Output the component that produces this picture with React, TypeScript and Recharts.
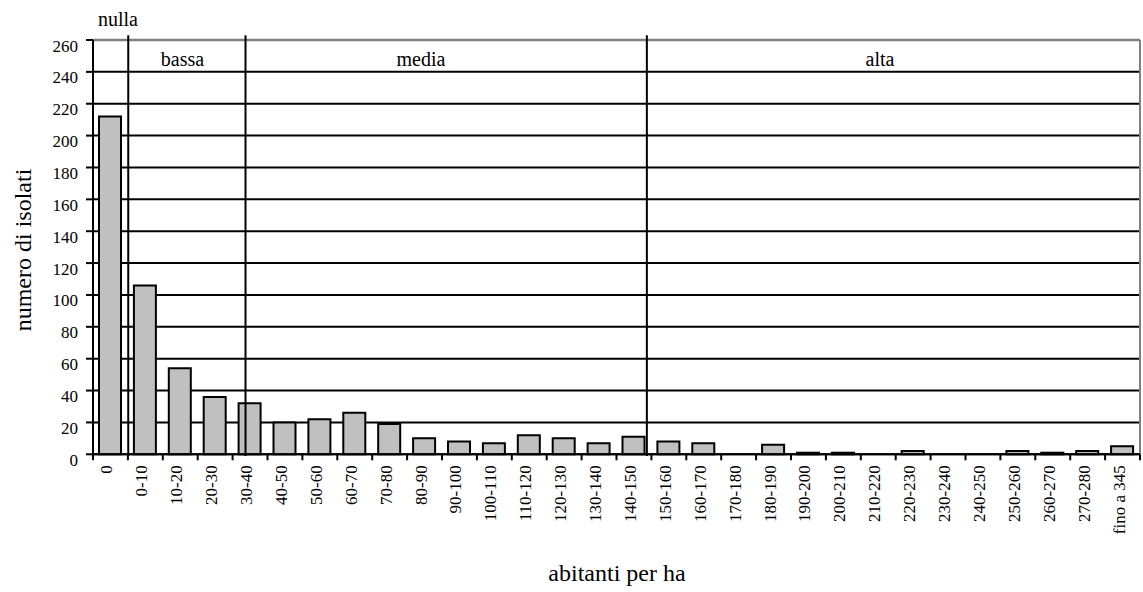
import React from 'react';
import { BarChart, Bar, XAxis, YAxis, CartesianGrid, ReferenceLine } from 'recharts';

const categories = [
  '0', '0-10', '10-20', '20-30', '30-40', '40-50', '50-60', '60-70', '70-80', '80-90',
  '90-100', '100-110', '110-120', '120-130', '130-140', '140-150', '150-160', '160-170',
  '170-180', '180-190', '190-200', '200-210', '210-220', '220-230', '230-240', '240-250',
  '250-260', '260-270', '270-280', 'fino a 345',
];
const counts = [212, 106, 54, 36, 32, 20, 22, 26, 19, 10, 8, 7, 12, 10, 7, 11, 8, 7, 0, 6, 1, 1, 0, 2, 0, 0, 2, 1, 2, 5];
const yTicks = [0, 20, 40, 60, 80, 100, 120, 140, 160, 180, 200, 220, 240, 260];
const classLabels = ['nulla', 'bassa', 'media', 'alta'];
// boundaries between density classes, in category units along the axis
const classBoundaries = [1.01, 4.37, 15.87];
const categoryCount = categories.length;

const data = categories.map((c, i) => ({ name: c, value: counts[i], pos: i + 0.5 }));

const FONT = "'Liberation Serif', 'Times New Roman', serif";
const LINE_W = 2;

const XTick = (props: any) => {
  const { x, y, payload, index } = props;
  const half = payload && typeof payload.offset === 'number' && payload.offset > 0 ? payload.offset : 1047 / 30 / 2;
  return (
    <g>
      <line x1={x - half} x2={x - half} y1={y} y2={y + 6} stroke="#000" strokeWidth={LINE_W} />
      {index === categoryCount - 1 && (
        <line x1={x + half} x2={x + half} y1={y} y2={y + 6} stroke="#000" strokeWidth={LINE_W} />
      )}
      <text
        transform={`translate(${x - 3.5},${y + 11}) rotate(-90)`}
        textAnchor="end"
        dominantBaseline="central"
        fontFamily={FONT}
        fontSize={17}
        fill="#000"
      >
        {payload.value}
      </text>
    </g>
  );
};

const YTick = (props: any) => {
  const { x, y, payload } = props;
  return (
    <text x={x} y={y + 6} textAnchor="end" dominantBaseline="central" fontFamily={FONT} fontSize={17} fill="#000">
      {payload.value}
    </text>
  );
};

export default function App() {
  return (
    <div style={{ position: 'absolute', left: 0, top: 0, width: 1143, height: 592, background: '#fff' }}>
      <BarChart
        width={1143}
        height={592}
        data={data}
        margin={{ top: 40, right: 3, left: 0, bottom: 0 }}
        barSize={22}
      >
        <CartesianGrid vertical={false} stroke="#000" strokeWidth={LINE_W} />
        <XAxis
          dataKey="name"
          type="category"
          interval={0}
          height={137.7}
          tickLine={false}
          tickSize={0}
          tickMargin={0}
          axisLine={{ stroke: '#000', strokeWidth: LINE_W }}
          tick={<XTick />}
        />
        <XAxis
          xAxisId="num"
          dataKey="pos"
          type="number"
          domain={[0, categoryCount]}
          allowDataOverflow
          hide
        />
        <YAxis
          width={93}
          domain={[0, 260]}
          ticks={yTicks}
          interval={0}
          tickSize={7}
          tickMargin={8}
          tickLine={{ stroke: '#000', strokeWidth: LINE_W }}
          axisLine={{ stroke: '#000', strokeWidth: LINE_W }}
          tick={<YTick />}
        />
        <Bar dataKey="value" fill="#c0c0c0" stroke="#000" strokeWidth={LINE_W} isAnimationActive={false} />
        <ReferenceLine y={260} stroke="#808080" strokeWidth={2.5} ifOverflow="visible" />
        <ReferenceLine xAxisId="num" x={categoryCount} stroke="#808080" strokeWidth={2} ifOverflow="visible" />
        {classBoundaries.map((b) => (
          <ReferenceLine
            key={b}
            xAxisId="num"
            segment={[{ x: b, y: -1 }, { x: b, y: 263 }]}
            stroke="#000"
            strokeWidth={LINE_W}
            ifOverflow="visible"
          />
        ))}
      </BarChart>
      <svg
        width={1143}
        height={592}
        style={{ position: 'absolute', left: 0, top: 0, pointerEvents: 'none' }}
      >
        <g fontFamily={FONT} fill="#000">
          <text x={118} y={26} textAnchor="middle" fontSize={20}>{classLabels[0]}</text>
          <text x={182.5} y={66} textAnchor="middle" fontSize={20}>{classLabels[1]}</text>
          <text x={421} y={66} textAnchor="middle" fontSize={20}>{classLabels[2]}</text>
          <text x={880} y={66} textAnchor="middle" fontSize={20}>{classLabels[3]}</text>
          <text
            transform="translate(23,250) rotate(-90)"
            textAnchor="middle"
            dominantBaseline="central"
            fontSize={24}
          >
            numero di isolati
          </text>
          <text x={617} y={581} textAnchor="middle" fontSize={24}>abitanti per ha</text>
        </g>
      </svg>
    </div>
  );
}
